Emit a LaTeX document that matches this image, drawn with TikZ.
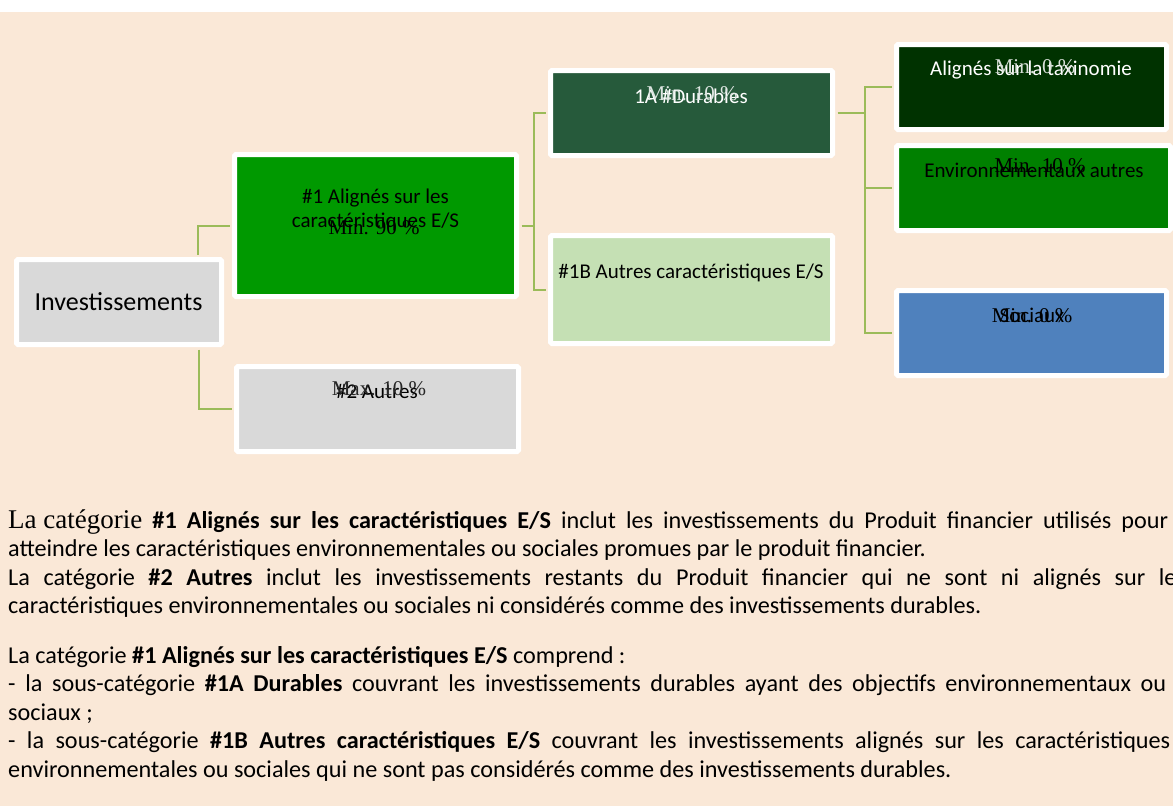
\documentclass[tikz,border=0pt]{standalone}
\usepackage{fontspec}
\setmainfont{Carlito}
\newfontfamily\tms{Liberation Serif}
\definecolor{bg}{HTML}{FAE8D7}
\definecolor{conn}{HTML}{9BBB59}
\definecolor{grayb}{HTML}{D9D9D9}
\definecolor{green1}{HTML}{009900}
\definecolor{dark1a}{HTML}{265A3B}
\definecolor{light1b}{HTML}{C5E0B4}
\definecolor{taxo}{HTML}{003200}
\definecolor{envc}{HTML}{008000}
\definecolor{socc}{HTML}{4F81BD}
\tikzset{
  box/.style={draw=white, line width=5pt, rounded corners=1.5pt, inner sep=0pt},
  cline/.style={draw=conn, line width=2pt},
  lbl/.style={anchor=base, inner sep=0pt, font=\fontsize{21}{25}\selectfont},
  mn/.style={anchor=base, inner sep=0pt, font=\tms\fontsize{21}{25}\selectfont},
  para/.style={anchor=base west, inner sep=0pt, font=\fontsize{24.2}{28}\selectfont},
}
\begin{document}
\begin{tikzpicture}[x=1pt,y=-1pt]
\useasboundingbox (0,0) rectangle (1173,806);
\clip (0,0) rectangle (1173,806);
\fill[white] (0,0) rectangle (1173,806);
\fill[bg] (0,12) rectangle (1173,806);

% boxes
\node[box, fill=grayb, minimum width=205pt, minimum height=85pt] (inv) at (119,302) {};
\node[box, fill=green1, minimum width=282pt, minimum height=142pt] (b1) at (375.5,225.5) {};
\node[box, fill=grayb, minimum width=282pt, minimum height=85pt] (b2) at (377.5,409) {};
\node[box, fill=dark1a, minimum width=282pt, minimum height=85pt] (b1a) at (691.5,113) {};
\node[box, fill=light1b, minimum width=282pt, minimum height=108pt] (b1b) at (691.5,289.5) {};
\node[box, fill=taxo, minimum width=270pt, minimum height=85pt] (tax) at (1031.5,87) {};
\node[box, fill=envc, minimum width=274pt, minimum height=85pt] (env) at (1033.5,188) {};
\node[box, fill=socc, minimum width=270pt, minimum height=85pt] (soc) at (1031.5,333) {};

% connectors
\draw[cline] ([xshift=79pt,yshift=2.5pt]inv.north) |- ([xshift=-2.5pt]b1.west);
\draw[cline] ([xshift=80pt,yshift=-2.5pt]inv.south) |- ([xshift=-2.5pt]b2.west);
\draw[cline] ([xshift=2.5pt]b1.east) -- ++(12,0) coordinate (j1);
\draw[cline] (j1) |- ([xshift=-2.5pt]b1a.west);
\draw[cline] (j1) |- ([xshift=-2.5pt]b1b.west);
\draw[cline] ([xshift=2.5pt]b1a.east) -- ++(27,0) coordinate (j2);
\draw[cline] (j2) |- ([xshift=-2.5pt]tax.west);
\draw[cline] (j2) |- ([xshift=-2.5pt]env.west);
\draw[cline] (j2) |- ([xshift=-2.5pt]soc.west);

% box texts
\node[lbl, font=\fontsize{26}{30}\selectfont] (tinv) at (118.5,310) {Investissements};
\node[lbl] (tb1a) at (375.5,203) {\#1 Alignés sur les};
\node[lbl] (tb1b) at (375.5,227) {caractéristiques E/S};
\node[mn] (mb1) at (374,234) {Min. 90 \%};
\node[lbl] (tb2) at (377,398) {\#2 Autres};
\node[mn, text=black!85] (mb2) at (379,395) {Max. 10 \%};
\node[lbl, text=white] (t1a) at (691,103) {1A \#Durables};
\node[mn, text=white!85!dark1a] (m1a) at (692,100) {Min. 10 \%};
\node[lbl] (t1b) at (691,278) {\#1B Autres caractéristiques E/S};
\node[lbl, text=white] (ttax) at (1031,75) {Alignés sur la taxinomie};
\node[mn, text=white!85!taxo] (mtax) at (1035,73) {Min. 0 \%};
\node[lbl] (tenv) at (1034,177) {Environnementaux autres};
\node[mn] (menv) at (1040,172) {Min. 10 \%};
\node[lbl] (tsoc) at (1032,322) {Sociaux};
\node[mn] (msoc) at (1032,322) {Min. 0 \%};

% paragraphs
\node[para] (p1) at (8,528) {\makebox[1160pt][s]{{\tms\fontsize{27}{30}\selectfont La\hspace{6.75pt}catégorie} \textbf{\#1 Alignés sur les caractéristiques E/S} inclut les investissements du Produit financier utilisés pour}};
\node[para] (p2) at (8,556.5) {atteindre les caractéristiques environnementales ou sociales promues par le produit financier.};
\node[para] (p3) at (8,585) {\makebox[1178pt][s]{La catégorie \textbf{\#2 Autres} inclut les investissements restants du Produit financier qui ne sont ni alignés sur les}};
\node[para] (p4) at (8,613.5) {caractéristiques environnementales ou sociales ni considérés comme des investissements durables.};
\node[para] (p5) at (8,663) {La catégorie \textbf{\#1 Alignés sur les caractéristiques E/S} comprend :};
\node[para] (p6) at (8,691.5) {\makebox[1158pt][s]{- la sous-catégorie \textbf{\#1A Durables} couvrant les investissements durables ayant des objectifs environnementaux ou}};
\node[para] (p7) at (8,720) {sociaux ;};
\node[para] (p8) at (8,748.5) {\makebox[1162pt][s]{- la sous-catégorie \textbf{\#1B Autres caractéristiques E/S} couvrant les investissements alignés sur les caractéristiques}};
\node[para] (p9) at (8,777) {environnementales ou sociales qui ne sont pas considérés comme des investissements durables.};
\end{tikzpicture}
\end{document}
